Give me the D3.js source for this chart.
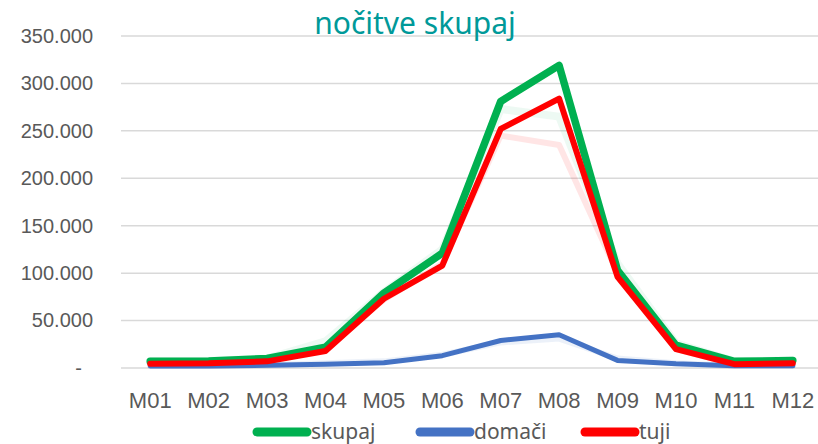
<!DOCTYPE html>
<html>
<head>
<meta charset="utf-8">
<script src="https://d3js.org/d3.v7.min.js"></script>
<style>
  body { margin: 0; background: #fff; }
  svg { font-family: "Noto Sans", "Open Sans", sans-serif; }
  .line { fill: none; stroke-linejoin: round; stroke-linecap: round; }
  .tick text { fill: #595959; font-size: 20px; }
  .x.axis .tick text { font-size: 22px; }
  .grid line { stroke: #d9d9d9; stroke-width: 1.5; }
</style>
</head>
<body>
<div id="root"></div>
<script>
// mesci
var months = ["M01","M02","M03","M04","M05","M06","M07","M08","M09","M10","M11","M12"];
var yTicks = [0, 50000, 100000, 150000, 200000, 250000, 300000, 350000];

// nočitve
var skupaj = [7000, 7500, 10000, 22000, 79000, 121000, 281000, 319000, 103000, 24000, 7000, 8000];
var domaci = [2000, 2200, 2800, 4000, 5500, 13000, 29000, 35000, 8000, 4500, 2500, 2500];
var tuji   = [4500, 5000, 7000, 18000, 73000, 108000, 252000, 284000, 96000, 20000, 4000, 5000];

// bledi "senčni" nizi v ozadju
var skupajSenca = [7000, 7500, 10000, 28000, 80000, 125000, 273000, 265000, 110000, 26000, 7000, 8000];
var tujiSenca   = [5000, 5000, 7000, 22000, 72000, 110000, 245000, 235000, 100000, 20000, 4000, 5000];
var domaciSenca = [2000, 2500, 3000, 5000, 7000, 14000, 27000, 31000, 10000, 5000, 2500, 2500];

var W = 818, H = 444;
var mLeft = 121, mRight = 822, mTop = 36, mBottom = 368;

var svg = d3.select("#root").append("svg")
  .attr("width", W).attr("height", H);

var x = d3.scaleBand().domain(months).range([mLeft, mRight]);
var y = d3.scaleLinear().domain([0, 350000]).range([mBottom, mTop]);
var fmt = function(v) { return v === 0 ? "-" : d3.format(",")(v).replace(/,/g, "."); };

/* mreža */
svg.append("g").attr("class", "grid")
  .selectAll("line").data(yTicks).enter().append("line")
  .attr("x1", mLeft).attr("x2", W)
  .attr("y1", d => y(d)).attr("y2", d => y(d));

/* os y */
var yAxis = svg.append("g")
  .attr("class", "y axis")
  .attr("transform", "translate(" + (mLeft - 28) + ",0)")
  .call(d3.axisLeft(y).tickValues(yTicks).tickFormat(fmt).tickSize(0).tickPadding(0));
yAxis.select(".domain").remove();
// excel poravna "-" nekoliko levo
yAxis.selectAll(".tick text").filter(d => d === 0).attr("x", -11);

/* os x */
var xAxis = svg.append("g")
  .attr("class", "x axis")
  .attr("transform", "translate(0," + mBottom + ")")
  .call(d3.axisBottom(x).tickSize(0).tickPadding(24));
xAxis.select(".domain").remove();

var line = d3.line()
  .x((d, i) => x(months[i]) + x.bandwidth() / 2)
  .y(d => y(d));

var series = [
  { name: "skupajSenca", values: skupajSenca, color: "#00b050", width: 8, op: 0.07 },
  { name: "tujiSenca", values: tujiSenca, color: "#ff0000", width: 6, op: 0.1 },
  { name: "domaciSenca", values: domaciSenca, color: "#4472c4", width: 6, op: 0.1 },
  { name: "skupaj", values: skupaj, color: "#00b050", width: 7.5, op: 1 },
  { name: "domači", values: domaci, color: "#4472c4", width: 5, op: 1 },
  { name: "tuji", values: tuji, color: "#ff0000", width: 6, op: 1 }
];

svg.append("g").selectAll("path").data(series).enter().append("path")
  .attr("class", "line")
  .attr("d", d => line(d.values))
  .style("stroke", d => d.color)
  .style("stroke-width", d => d.width)
  .style("opacity", d => d.op);

/* naslov */
svg.append("text")
  .attr("x", 415).attr("y", 34)
  .attr("text-anchor", "middle")
  .style("font-size", "30px")
  .style("fill", "#009999")
  .text("nočitve skupaj");

/* legenda */
var legend = [
  { name: "skupaj", color: "#00b050", x: 257 },
  { name: "domači", color: "#4472c4", x: 420 },
  { name: "tuji", color: "#ff0000", x: 585 }
];
var lg = svg.append("g").selectAll("g").data(legend).enter().append("g")
  .attr("transform", d => "translate(" + d.x + ",432)");
lg.append("line")
  .attr("x1", 0).attr("x2", 50).attr("y1", 0).attr("y2", 0)
  .style("stroke", d => d.color).style("stroke-width", 9).style("stroke-linecap", "round");
lg.append("text")
  .attr("x", 54).attr("y", 0).attr("dy", "0.35em")
  .style("font-size", "21px").style("fill", "#595959")
  .text(d => d.name);
</script>
</body>
</html>
